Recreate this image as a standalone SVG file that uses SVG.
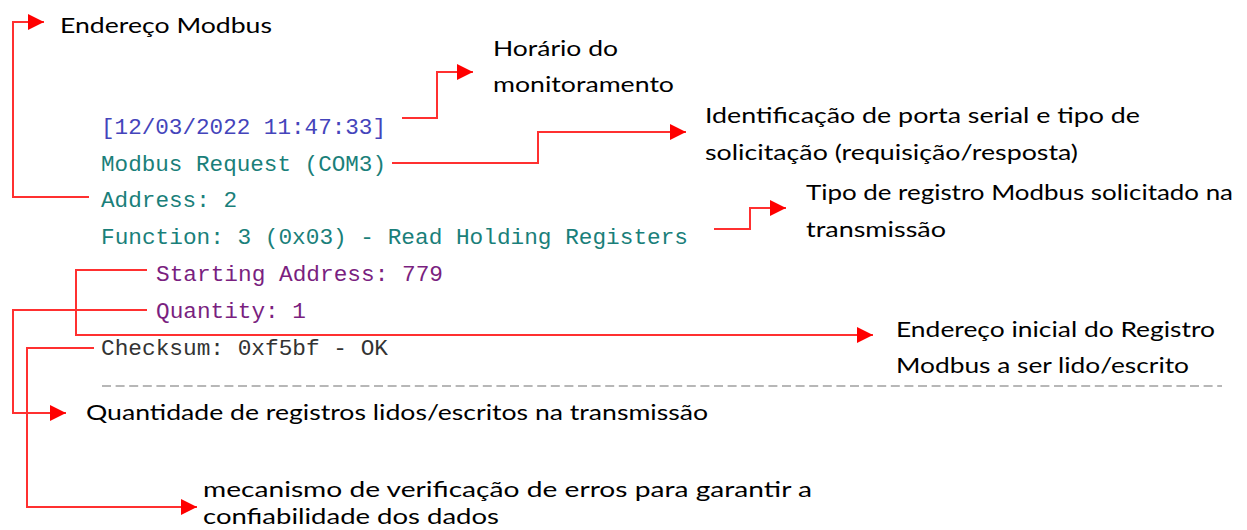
<svg xmlns="http://www.w3.org/2000/svg" width="1247" height="530" viewBox="0 0 1247 530">
<defs>
<marker id="ah" markerUnits="userSpaceOnUse" markerWidth="16" markerHeight="16" viewBox="0 0 16 16" refX="16" refY="8" orient="auto">
<path d="M0,0 L16,8 L0,16 z" fill="#ff0000"/>
</marker>
<style>
.mono{font-family:"Liberation Mono","Courier New",monospace;font-size:22.6px}
.blue{fill:#4444bb}
.teal{fill:#1a7f7a}
.purple{fill:#7a1f80}
.dark{fill:#333333}
.lbl{font-family:Lato,"Open Sans","Liberation Sans",sans-serif;font-size:22px;fill:#000}
.conn{fill:none;stroke:#ff3030;stroke-width:2;marker-end:url(#ah)}
</style>
</defs>
<rect width="1247" height="530" fill="#ffffff"/>
<g id="log">
<text class="mono blue" x="101" y="134" textLength="285" lengthAdjust="spacingAndGlyphs">[12/03/2022 11:47:33]</text>
<text class="mono teal" x="101" y="171" textLength="285" lengthAdjust="spacingAndGlyphs">Modbus Request (COM3)</text>
<text class="mono teal" x="101" y="207" textLength="136" lengthAdjust="spacingAndGlyphs">Address: 2</text>
<text class="mono teal" x="101" y="244" textLength="587" lengthAdjust="spacingAndGlyphs">Function: 3 (0x03) - Read Holding Registers</text>
<text class="mono purple" x="156" y="281" textLength="287" lengthAdjust="spacingAndGlyphs">Starting Address: 779</text>
<text class="mono purple" x="156" y="318" textLength="150" lengthAdjust="spacingAndGlyphs">Quantity: 1</text>
<text class="mono dark" x="101" y="355" textLength="287" lengthAdjust="spacingAndGlyphs">Checksum: 0xf5bf - OK</text>
<line x1="102" y1="386" x2="1222" y2="386" stroke="#a0a0a0" stroke-width="1.5" stroke-dasharray="9 4.6"/>
</g>
<g id="labels">
<text class="lbl" x="60" y="33" textLength="212" lengthAdjust="spacingAndGlyphs">Endereço Modbus</text>
<text class="lbl" x="493" y="56" textLength="125" lengthAdjust="spacingAndGlyphs">Horário do</text>
<text class="lbl" x="493" y="92" textLength="181" lengthAdjust="spacingAndGlyphs">monitoramento</text>
<text class="lbl" x="705" y="123" textLength="435" lengthAdjust="spacingAndGlyphs">Identificação de porta serial e tipo de</text>
<text class="lbl" x="705" y="160" textLength="373" lengthAdjust="spacingAndGlyphs">solicitação (requisição/resposta)</text>
<text class="lbl" x="806" y="200" textLength="427" lengthAdjust="spacingAndGlyphs">Tipo de registro Modbus solicitado na</text>
<text class="lbl" x="806" y="237" textLength="140" lengthAdjust="spacingAndGlyphs">transmissão</text>
<text class="lbl" x="896" y="337" textLength="319" lengthAdjust="spacingAndGlyphs">Endereço inicial do Registro</text>
<text class="lbl" x="896" y="373" textLength="293" lengthAdjust="spacingAndGlyphs">Modbus a ser lido/escrito</text>
<text class="lbl" x="86" y="420" textLength="622" lengthAdjust="spacingAndGlyphs">Quantidade de registros lidos/escritos na transmissão</text>
<text class="lbl" x="203" y="497" textLength="609" lengthAdjust="spacingAndGlyphs">mecanismo de verificação de erros para garantir a</text>
<text class="lbl" x="203" y="524" textLength="296" lengthAdjust="spacingAndGlyphs">confiabilidade dos dados</text>
</g>
<g id="connectors">
<path class="conn" d="M89,197 H13 V22 H44"/>
<path class="conn" d="M402,118 H437 V72 H473"/>
<path class="conn" d="M392,163 H538 V132 H686"/>
<path class="conn" d="M714,229 H750 V208 H786"/>
<path class="conn" d="M147,270 H76 V335 H873"/>
<path class="conn" d="M147,310 H13 V413 H66"/>
<path class="conn" d="M94,348 H27 V507 H197"/>
</g>
</svg>
